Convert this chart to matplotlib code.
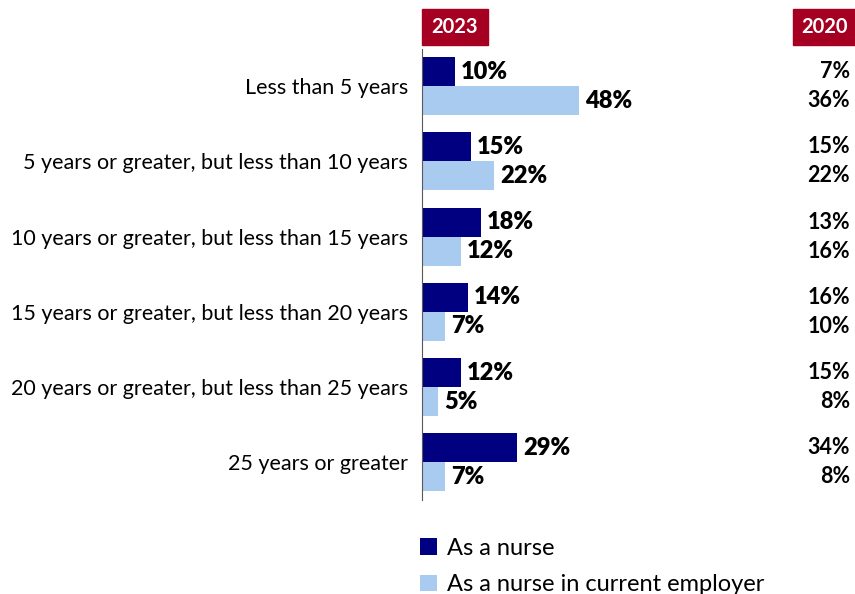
"""Years of experience as a nurse, 2023 survey with 2020 comparison"""

import numpy as np
import matplotlib.pyplot as plt
from matplotlib.patches import Rectangle

categories = [
    "Less than 5 years",
    "5 years or greater, but less than 10 years",
    "10 years or greater, but less than 15 years",
    "15 years or greater, but less than 20 years",
    "20 years or greater, but less than 25 years",
    "25 years or greater",
]
nurse_2023 = [10, 15, 18, 14, 12, 29]
employer_2023 = [48, 22, 12, 7, 5, 7]
nurse_2020 = [7, 15, 13, 16, 15, 34]
employer_2020 = [36, 22, 16, 10, 8, 8]
series_labels = ["As a nurse", "As a nurse in current employer"]

DARK = "#000080"
LIGHT = "#A9CBF0"
HEADER = "#A50021"


def main() -> None:
    """Draw the chart"""
    plt.rcParams["font.family"] = ["Lato", "DejaVu Sans"]
    fig = plt.figure(figsize=(8.55, 5.94), dpi=100)
    ax = fig.add_axes([422 / 855, 1 - 500 / 594, 328 / 855, 451.5 / 594])

    y = np.arange(len(categories))
    h = 0.385
    b1 = ax.barh(y - h / 2, nurse_2023, height=h, color=DARK, label=series_labels[0])
    b2 = ax.barh(y + h / 2, employer_2023, height=h, color=LIGHT, label=series_labels[1])

    for bars, vals in ((b1, nurse_2023), (b2, employer_2023)):
        for bar, v in zip(bars, vals):
            ax.text(v + 1.8, bar.get_y() + bar.get_height() / 2, f"{v}%",
                    ha="left", va="center", fontsize=17, fontweight="heavy")

    # 2020 column, right-aligned at figure edge
    trans = ax.get_yaxis_transform()
    x20 = (850 - 422) / 328
    for i in y:
        ax.text(x20, i - h / 2, f"{nurse_2020[i]}%", transform=trans, ha="right",
                va="center", fontsize=15.5, fontweight="bold", clip_on=False)
        ax.text(x20, i + h / 2, f"{employer_2020[i]}%", transform=trans, ha="right",
                va="center", fontsize=15.5, fontweight="bold", clip_on=False)

    ax.set_xlim(0, 100)
    ax.set_ylim(len(categories) - 0.5, -0.5)
    ax.set_yticks(y, categories, fontsize=15.5)
    ax.tick_params(axis="y", length=0, pad=10)
    ax.set_xticks([])
    for side in ("top", "right", "bottom"):
        ax.spines[side].set_visible(False)
    ax.spines["left"].set_color("#595959")

    # year header boxes
    for x0, x1, year in ((422, 488, "2023"), (793, 855, "2020")):
        fig.patches.append(Rectangle((x0 / 855, 1 - 45 / 594), (x1 - x0) / 855, 36 / 594,
                                     transform=fig.transFigure, color=HEADER))
        fig.text((x0 + x1) / 2 / 855, 1 - 27 / 594, year, ha="center", va="center",
                 color="white", fontsize=14.5, fontweight="bold")

    fig.legend(handles=[b1, b2], loc="upper left", bbox_to_anchor=(420 / 855, 1 - 538 / 594),
               frameon=False, fontsize=17, handlelength=0.7, handleheight=0.7,
               handletextpad=0.45, labelspacing=0.65, borderaxespad=0, borderpad=0)

    fig.savefig("out.png", dpi=100)


if __name__ == "__main__":
    main()
